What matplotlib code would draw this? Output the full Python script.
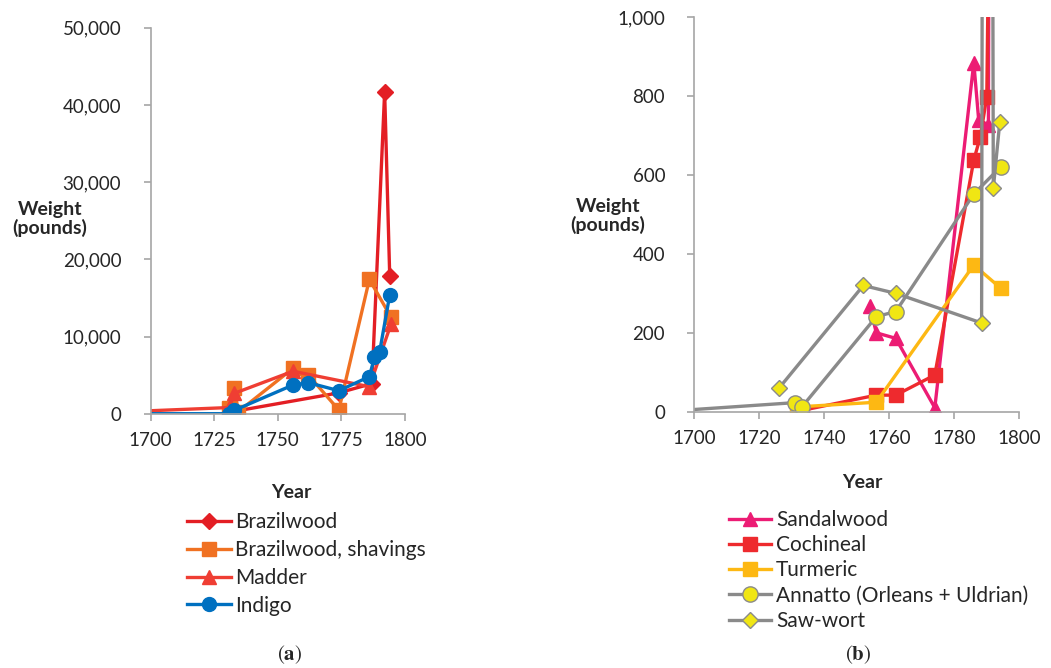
import matplotlib
matplotlib.use("Agg")
import matplotlib.pyplot as plt
from matplotlib.ticker import FuncFormatter, MultipleLocator

plt.rcParams['font.family'] = ['Lato', 'DejaVu Sans']
plt.rcParams['mathtext.fontset'] = 'stix'

# ---------------- data: panel (a) ----------------
brazilwood_years = [1732, 1774, 1787, 1792, 1794]
brazilwood_vals = [250, 2700, 3900, 41700, 17800]
shavings_years = [1731, 1733, 1734.5, 1756, 1762, 1774, 1786, 1794.4]
shavings_vals = [740, 3290, 260, 5880, 5010, 480, 17400, 12560]
madder_years = [1690, 1731, 1733, 1756, 1786, 1794.5]
madder_vals = [250, 800, 2650, 5500, 3500, 11600]
indigo_years = [1690, 1731, 1733, 1756, 1762, 1774, 1786, 1788, 1790, 1794]
indigo_vals = [0, 0, 450, 3720, 4020, 2980, 4800, 7300, 7950, 15380]

# ---------------- data: panel (b) ----------------
sandal_years = [1754, 1756, 1762, 1774, 1786, 1787.5, 1790.5, 1791]
sandal_vals = [268, 200, 186, 10, 885, 740, 727, 2500]
cochineal_years = [1733, 1756, 1762, 1774, 1786, 1788, 1790, 1791]
cochineal_vals = [3, 42, 42, 93, 638, 697, 799, 1500]
turmeric_years = [1731.5, 1756, 1786, 1794.3]
turmeric_vals = [12, 24, 372, 313]
annatto_years = [1690, 1731, 1733, 1756, 1762, 1786, 1794.3]
annatto_vals = [0, 23, 11, 241, 254, 552, 621]
sawwort_years = [1726, 1752, 1762, 1788.4, 1790, 1792, 1794]
sawwort_vals = [59, 320, 300, 225, 8000, 566, 735]

W, H = 1051, 668
fig = plt.figure(figsize=(W / 100, H / 100), dpi=100)

def fx(px):
    return px / W

def fy(py):
    return 1 - py / H

axA = fig.add_axes([fx(150.5), fy(413.7), fx(405) - fx(150.5), fy(27.7) - fy(413.7)])
axB = fig.add_axes([fx(694.3), fy(411.7), fx(1019.3) - fx(694.3), fy(17.3) - fy(411.7)])

lw = 2.4
axA.plot(brazilwood_years, brazilwood_vals, color='#E31E24', lw=lw, marker='D', ms=8.5, label='Brazilwood')
axA.plot(shavings_years, shavings_vals, color='#F07122', lw=lw, marker='s', ms=9.5, label='Brazilwood, shavings')
axA.plot(madder_years, madder_vals, color='#EF3E33', lw=lw, marker='^', ms=10, label='Madder')
axA.plot(indigo_years, indigo_vals, color='#0070C0', lw=lw, marker='o', ms=10, label='Indigo')

axB.plot(sandal_years, sandal_vals, color='#EC1C74', lw=lw, marker='^', ms=10.5, label='Sandalwood')
axB.plot(cochineal_years, cochineal_vals, color='#EE2A2E', lw=lw, marker='s', ms=9.5, label='Cochineal')
axB.plot(turmeric_years, turmeric_vals, color='#FDB813', lw=lw, marker='s', ms=9.5, label='Turmeric')
axB.plot(annatto_years, annatto_vals, color='#8A8A8A', lw=lw, marker='o', ms=11,
         mfc='#F0E614', mec='#8A8A8A', mew=1.0, label='Annatto (Orleans + Uldrian)')
axB.plot(sawwort_years, sawwort_vals, color='#8A8A8A', lw=lw, marker='D', ms=8,
         mfc='#F0E614', mec='#8A8A8A', mew=1.0, label='Saw-wort')

axA.set_xlim(1700, 1800)
axA.set_ylim(0, 50000)
axA.xaxis.set_major_locator(MultipleLocator(25))
axA.yaxis.set_major_locator(MultipleLocator(10000))
axB.set_xlim(1700, 1800)
axB.set_ylim(0, 1000)
axB.xaxis.set_major_locator(MultipleLocator(20))
axB.yaxis.set_major_locator(MultipleLocator(200))

comma = FuncFormatter(lambda v, p: f"{int(v):,}")
spine_c = '#A6A6A6'
for ax in (axA, axB):
    ax.yaxis.set_major_formatter(comma)
    ax.xaxis.set_major_formatter(FuncFormatter(lambda v, p: f"{int(v)}"))
    for s in ('top', 'right'):
        ax.spines[s].set_visible(False)
    for s in ('left', 'bottom'):
        ax.spines[s].set_color(spine_c)
        ax.spines[s].set_linewidth(1.2)
    ax.tick_params(axis='both', direction='out', length=5, width=1.2, color=spine_c,
                   labelsize=13.5, labelcolor='#262626')
    ax.tick_params(axis='y', pad=16)
    ax.tick_params(axis='x', pad=8)
    ax.patch.set_alpha(0)

# axis titles
fig.text(fx(50), fy(219), 'Weight\n(pounds)', ha='center', va='center', fontsize=14,
         fontweight='bold', color='#262626', linespacing=1.1)
fig.text(fx(608), fy(216), 'Weight\n(pounds)', ha='center', va='center', fontsize=14,
         fontweight='bold', color='#262626', linespacing=1.1)
fig.text(fx(291), fy(492), 'Year', ha='center', va='center', fontsize=14,
         fontweight='bold', color='#262626')
fig.text(fx(862), fy(482), 'Year', ha='center', va='center', fontsize=14,
         fontweight='bold', color='#262626')

legA = axA.legend(loc='upper left', bbox_to_anchor=(fx(187), fy(512)), bbox_transform=fig.transFigure,
                  frameon=False, borderpad=0, borderaxespad=0, fontsize=15, handlelength=2.1,
                  handletextpad=0.2, labelspacing=0.38)
legB = axB.legend(loc='upper left', bbox_to_anchor=(fx(729), fy(510)), bbox_transform=fig.transFigure,
                  frameon=False, borderpad=0, borderaxespad=0, fontsize=15, handlelength=2.0,
                  handletextpad=0.25, labelspacing=0.25)
for leg in (legA, legB):
    for t in leg.get_texts():
        t.set_color('#262626')

fig.text(fx(290), fy(655), r'($\mathbf{a}$)', ha='center', va='center', fontsize=15,
         family='STIXGeneral', color='#262626')
fig.text(fx(858), fy(655), r'($\mathbf{b}$)', ha='center', va='center', fontsize=15,
         family='STIXGeneral', color='#262626')

fig.savefig('out.png', dpi=100)
